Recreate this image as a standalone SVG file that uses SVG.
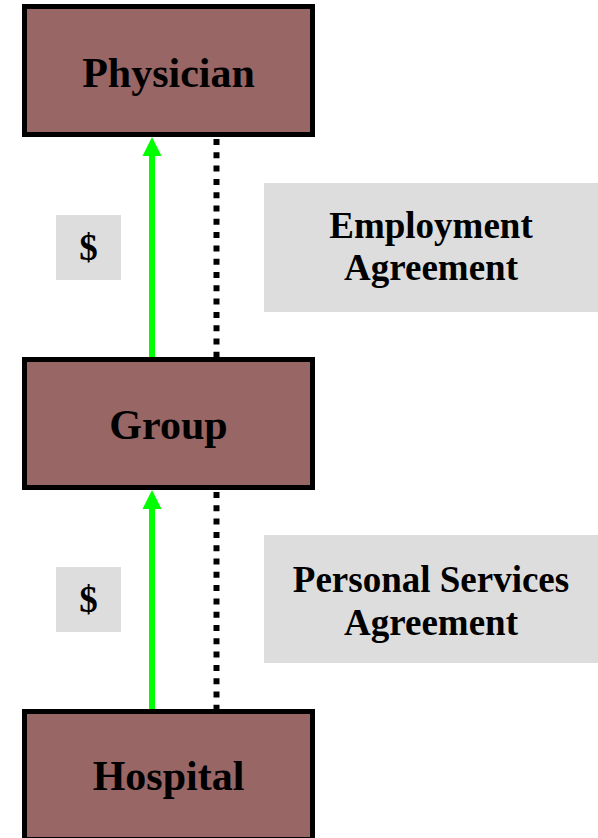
<svg xmlns="http://www.w3.org/2000/svg" width="598" height="838" viewBox="0 0 598 838">
<style>
.node{fill:#996666;stroke:#000;stroke-width:5}
.ntext{font-family:"Liberation Serif","Times New Roman",serif;font-weight:bold;font-size:42px;fill:#000;text-anchor:middle}
.lbl{fill:#dddddd}
.ltext{font-family:"Liberation Serif","Times New Roman",serif;font-weight:bold;font-size:37px;fill:#000;text-anchor:middle}
.money{stroke:#00ff00;stroke-width:6;fill:none}
.head{fill:#00ff00}
.dot{stroke:#000;stroke-width:6;stroke-dasharray:6 7.3;fill:none}
</style>
<rect width="598" height="838" fill="#fff"/>
<g id="connectors">
<line class="money" x1="152" y1="155" x2="152" y2="358"/>
<polygon class="head" points="152,137 142.5,156 161.5,156"/>
<line class="dot" x1="216.5" y1="139" x2="216.5" y2="357"/>
<line class="money" x1="152" y1="508" x2="152" y2="711"/>
<polygon class="head" points="152,490 142.5,509 161.5,509"/>
<line class="dot" x1="216.5" y1="492" x2="216.5" y2="709"/>
</g>
<g id="physician">
<rect class="node" x="24.5" y="6.5" width="288" height="128"/>
<text class="ntext" x="168.5" y="87">Physician</text>
</g>
<g id="group">
<rect class="node" x="24.5" y="359.5" width="288" height="128"/>
<text class="ntext" x="168.5" y="439">Group</text>
</g>
<g id="hospital">
<rect class="node" x="24.5" y="711.5" width="288" height="128"/>
<text class="ntext" x="168.5" y="790">Hospital</text>
</g>
<g id="money1">
<rect class="lbl" x="56" y="215" width="65" height="65"/>
<text class="ltext" x="88.5" y="260">$</text>
</g>
<g id="money2">
<rect class="lbl" x="56" y="567" width="65" height="65"/>
<text class="ltext" x="88.5" y="612">$</text>
</g>
<g id="employment">
<rect class="lbl" x="264" y="183" width="334" height="129"/>
<text class="ltext" x="431" y="238">Employment</text>
<text class="ltext" x="431" y="280">Agreement</text>
</g>
<g id="psa">
<rect class="lbl" x="264" y="535" width="334" height="128"/>
<text class="ltext" x="431" y="592">Personal Services</text>
<text class="ltext" x="431" y="635">Agreement</text>
</g>
</svg>
